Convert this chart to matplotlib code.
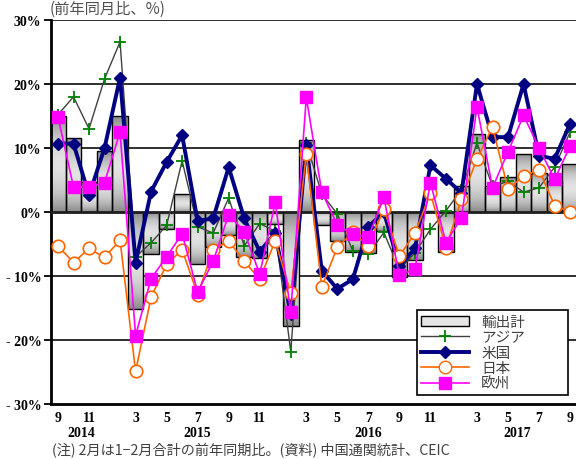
import numpy as np
import matplotlib
matplotlib.use("Agg")
import matplotlib.pyplot as plt
from matplotlib.patches import Patch
from matplotlib.lines import Line2D

# ── Data (YoY %, Jan-Feb combined as "2") ──
months = [9, 10, 11, 12,
          2, 3, 4, 5, 6, 7, 8, 9, 10, 11, 12,
          2, 3, 4, 5, 6, 7, 8, 9, 10, 11, 12,
          2, 3, 4, 5, 6, 7, 8, 9]
years = ["2014", "2015", "2016", "2017"]
year_pos = [1.5, 9.0, 20.0, 29.6]

total = [15.0, 11.6, 4.7, 9.5, 15.0, -15.1, -6.5, -2.7, 2.8, -8.2, -5.5, -3.6,
         -7.0, -7.2, -1.8, -17.8, 11.3, -2.1, -4.6, -6.2, -6.4, -3.0, -10.2, -7.5,
         0.2, -6.2, 4.0, 12.2, 4.1, 5.4, 9.1, 6.1, 4.8, 7.5]
asia = [15.2, 18.0, 13.0, 20.8, 26.6, -7.0, -4.8, -2.1, 8.0, -2.3, -3.3, 2.2,
        -5.3, -1.8, -3.0, -21.8, 10.8, 2.8, -0.3, -6.1, -6.6, -3.2, -9.0, -6.4,
        -2.7, 0.2, 3.5, 10.8, 4.0, 4.8, 3.1, 3.8, 7.0, 12.5]
us = [10.7, 10.7, 2.6, 10.0, 21.0, -7.9, 3.2, 7.8, 12.0, -1.4, -1.0, 7.0,
      -1.0, -6.2, -3.3, -16.0, 10.5, -9.2, -12.0, -10.5, -2.3, 0.0, -8.5, -5.7,
      7.3, 5.2, 3.0, 20.0, 11.7, 11.7, 20.0, 8.8, 8.3, 13.8]
japan = [-5.3, -7.9, -5.7, -7.1, -4.4, -24.9, -13.3, -8.2, -5.9, -12.9, -5.9, -4.5,
         -7.7, -10.5, -4.5, -12.7, 9.1, -11.7, -5.5, -3.2, -5.3, 0.5, -6.9, -3.3,
         2.9, -5.6, 2.0, 8.3, 13.3, 3.6, 5.6, 6.6, 1.0, 0.0]
europe = [14.9, 3.9, 3.9, 4.6, 12.5, -19.3, -10.4, -7.0, -3.4, -12.5, -7.7, -0.4,
          -3.1, -9.7, 1.5, -15.6, 17.9, 3.1, -2.0, -3.5, -3.9, 2.3, -9.9, -8.9,
          4.6, -4.8, -0.9, 16.4, 3.8, 9.4, 15.1, 10.0, 5.1, 10.3]

x = np.arange(len(months))

num_font = ["Liberation Serif", "Noto Sans CJK JP"]
jp_font = ["Noto Sans CJK JP", "DejaVu Sans"]

fig = plt.figure(figsize=(5.76, 4.60), dpi=100)
ax = fig.add_axes([51 / 576, 55 / 460, 525 / 576, 384 / 460])

# ── Bars with grey-white-grey gradient ──
bars = ax.bar(x, total, width=1.0, facecolor="none", edgecolor="black",
              linewidth=1.0, zorder=3)
grad = np.abs(np.linspace(-1, 1, 64)) ** 1.6
grad = grad.reshape(-1, 1)
for b in bars:
    x0, y0 = b.get_x(), b.get_y()
    w, h = b.get_width(), b.get_height()
    im = ax.imshow(grad, extent=[x0, x0 + w, y0, y0 + h], aspect="auto",
                   cmap="Greys", vmin=-0.6, vmax=2.4, zorder=2, origin="lower")
    im.set_clip_path(b)

# ── Lines ──
ax.plot(x, asia, color="#404040", lw=1.0, marker="+", ms=9, mec="#008000",
        mew=1.3, zorder=4)
ax.plot(x, us, color="#000080", lw=2.8, marker="D", ms=6.5, mfc="#000080",
        mec="#000080", zorder=5)
ax.plot(x, japan, color="#FF6600", lw=1.2, marker="o", ms=9, mfc="white",
        mec="#FF6600", mew=1.2, zorder=6)
ax.plot(x, europe, color="#FF00FF", lw=1.2, marker="s", ms=8, mfc="#FF00FF",
        mec="#FF00FF", zorder=7)

# ── Axes styling ──
ax.set_xlim(-0.45, 33.38)
ax.set_ylim(-30, 30)
ax.set_yticks(np.arange(-30, 31, 10))
ax.set_yticklabels([f"{v}%" if v >= 0 else f"- {abs(v)}%" for v in range(-30, 31, 10)],
                   family=num_font, fontsize=10, fontweight="bold")
for v in range(-20, 31, 10):
    ax.axhline(v, color="#202020", lw=1.3 if v != 0 else 2.0, zorder=1 if v != 0 else 3.5)

ax.set_xticks(x)
ax.set_xticklabels([str(m) if m % 2 == 1 else "" for m in months],
                   family=num_font, fontsize=10, fontweight="bold")
ax.tick_params(axis="x", length=0, pad=5)
ax.tick_params(axis="y", length=5, width=1.3, direction="out", pad=2)
for yr, p in zip(years, year_pos):
    ax.text(p, -34.4, yr, ha="center", va="center", family=num_font,
            fontsize=10, fontweight="bold")

for s in ["top", "right"]:
    ax.spines[s].set_visible(False)
ax.spines["left"].set_linewidth(2.0)
ax.spines["bottom"].set_linewidth(2.0)

ax.text(-0.002, 1.008, "(前年同月比、%)", transform=ax.transAxes, ha="left",
        va="bottom", family=jp_font, fontsize=11, color="#505050")
fig.text(52 / 576, 1 - 451 / 460,
         "(注) 2月は1−2月合計の前年同期比。(資料) 中国通関統計、CEIC",
         ha="left", va="center", family=jp_font, fontsize=10.2, color="#404040")

# ── Legend ──
handles = [
    Patch(facecolor="#e6e6e6", edgecolor="black", linewidth=1.0, label="輸出計"),
    Line2D([], [], color="#404040", lw=1.0, marker="+", ms=9, mec="#008000",
           mew=1.3, label="アジア"),
    Line2D([], [], color="#000080", lw=2.8, marker="D", ms=6.5, label="米国"),
    Line2D([], [], color="#FF6600", lw=1.2, marker="o", ms=9, mfc="white",
           mec="#FF6600", label="日本"),
    Line2D([], [], color="#FF00FF", lw=1.2, marker="s", ms=8, label="欧州"),
]
leg = ax.legend(handles=handles, loc="lower left",
                bbox_to_anchor=(0.697, 0.023, 0.288, 0.217), mode="expand",
                borderaxespad=0, frameon=True, fancybox=False, framealpha=1,
                edgecolor="black", handlelength=3.3, labelspacing=0.1,
                borderpad=0.3, prop={"family": jp_font, "size": 10.5})
leg.get_frame().set_linewidth(1.2)
leg.set_zorder(10)
for t in leg.get_texts():
    t.set_color("#404040")

fig.savefig("out.png", dpi=100, facecolor="white")
